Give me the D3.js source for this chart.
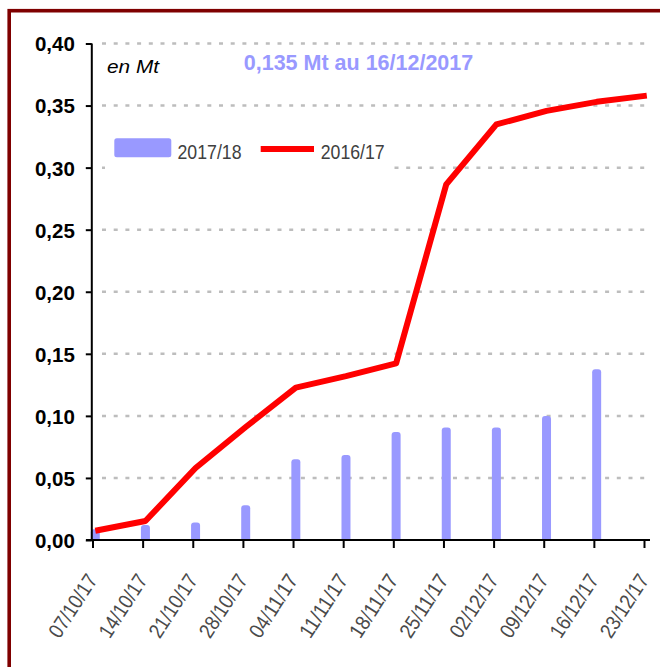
<!DOCTYPE html>
<html>
<head>
<meta charset="utf-8">
<script src="https://cdn.jsdelivr.net/npm/d3@7/dist/d3.min.js"></script>
<style>
html, body { margin: 0; padding: 0; background: #fff; }
svg { display: block; }
</style>
</head>
<body>
<svg id="chart" width="660" height="667"></svg>
<script>
// ---- data ----
const categories = ["07/10/17","14/10/17","21/10/17","28/10/17","04/11/17","11/11/17",
                    "18/11/17","25/11/17","02/12/17","09/12/17","16/12/17","23/12/17"];
const series2017 = [0.0086, 0.012, 0.014, 0.028, 0.065, 0.0685, 0.087, 0.0907, 0.0907, 0.100, 0.1375, null];
const series2016 = [0.0075, 0.0153, 0.058, 0.091, 0.1227, 0.132, 0.1423, 0.2865, 0.3348, 0.3457, 0.353, 0.358];
const yTicks = [0, 0.05, 0.10, 0.15, 0.20, 0.25, 0.30, 0.35, 0.40];
const seriesNames = ["2017/18", "2016/17"];
const titleText = "0,135 Mt au 16/12/2017";
const unitText = "en Mt";

// ---- layout ----
const svg = d3.select("#chart");
const barColor = "#9999FF";
const lineColor = "#FF0000";
const fmt = d => d3.format(".2f")(d).replace(".", ",");

// frame
svg.append("rect").attr("x", 9.2).attr("y", 10.7).attr("width", 720).attr("height", 720)
  .attr("fill", "none").attr("stroke", "#7F0000").attr("stroke-width", 3.6);

const x = d3.scalePoint().domain(categories).range([95.3, 646.8]);
const y = d3.scaleLinear().domain([0, 0.40]).range([540, 43.5]);
const tickShift = -2.8;
const axisLeftX = 91.8;

// gridlines
svg.append("g").selectAll("line").data(yTicks.filter(d => d > 0)).join("line")
  .attr("x1", 102).attr("x2", 648)
  .attr("y1", d => y(d)).attr("y2", d => y(d))
  .attr("stroke", "#BDBDBD").attr("stroke-width", 2.5)
  .attr("stroke-dasharray", "4,7.7");

// legend background (covers gridline)
svg.append("rect").attr("x", 105).attr("y", 128).attr("width", 286).attr("height", 44).attr("fill", "#fff");

// bars
const bw = 9;
svg.append("g").selectAll("path").data(categories.map((c, i) => ({c, v: series2017[i]})).filter(d => d.v != null))
  .join("path")
  .attr("fill", barColor)
  .attr("d", d => {
    const x0 = x(d.c) - bw / 2, x1 = x(d.c) + bw / 2, yt = y(d.v), yb = y(0), r = Math.min(3, (yb - yt) / 2);
    return `M${x0},${yb} L${x0},${yt + r} Q${x0},${yt} ${x0 + r},${yt} L${x1 - r},${yt} Q${x1},${yt} ${x1},${yt + r} L${x1},${yb} Z`;
  });

// line
const lineGen = d3.line().x((d, i) => x(categories[i])).y(d => y(d));
svg.append("path").datum(series2016)
  .attr("d", lineGen).attr("fill", "none")
  .attr("stroke", lineColor).attr("stroke-width", 6).attr("stroke-linejoin", "round");

// y axis
const yAxis = d3.axisLeft(y).tickValues(yTicks).tickFormat(fmt).tickSize(6).tickPadding(11);
const gy = svg.append("g").attr("transform", `translate(${axisLeftX},0)`).call(yAxis);
gy.select(".domain").attr("stroke", "#000").attr("stroke-width", 2).attr("d", `M0,${y(0.40)}V${y(0)}`);
gy.selectAll(".tick line").attr("stroke", "#000").attr("stroke-width", 2);
gy.selectAll(".tick text").attr("fill", "#000").attr("font-family", "Liberation Sans, Arial, sans-serif")
  .attr("font-weight", "bold").attr("font-size", 20.5).attr("dy", "0.36em");

// x axis
const xAxis = d3.axisBottom(x).tickSize(8).tickFormat(d => d);
const gx = svg.append("g").attr("transform", `translate(${tickShift},${y(0)})`).call(xAxis);
gx.select(".domain").attr("stroke", "#000").attr("stroke-width", 2)
  .attr("d", `M${86 - tickShift},0H${650 - tickShift}`);
gx.selectAll(".tick line").attr("stroke", "#000").attr("stroke-width", 2);
gx.selectAll(".tick text")
  .attr("fill", "#4a4a4a")
  .attr("font-family", "Liberation Sans Narrow, Arial Narrow, Liberation Sans, sans-serif")
  .attr("font-size", 21)
  .attr("text-anchor", "end")
  .attr("textLength", 71).attr("lengthAdjust", "spacingAndGlyphs")
  .attr("transform", "translate(-1,36) rotate(-57)")
  .attr("x", 0).attr("y", 0).attr("dy", "0.35em");

// title
svg.append("text").attr("x", 358.5).attr("y", 70).attr("text-anchor", "middle")
  .attr("font-family", "Liberation Sans, Arial, sans-serif").attr("font-weight", "bold")
  .attr("font-size", 21.5).attr("fill", barColor).text(titleText);

// unit
svg.append("text").attr("x", 107).attr("y", 72.5)
  .attr("font-family", "Liberation Sans, Arial, sans-serif").attr("font-style", "italic")
  .attr("font-size", 19).attr("fill", "#000")
  .attr("textLength", 52).attr("lengthAdjust", "spacingAndGlyphs").text(unitText);

// legend
const lg = svg.append("g");
lg.append("rect").attr("x", 114.3).attr("y", 138.3).attr("width", 57).attr("height", 19).attr("rx", 2.5)
  .attr("fill", barColor);
lg.append("text").attr("x", 177.5).attr("y", 158.5).text(seriesNames[0]);
lg.append("line").attr("x1", 260.7).attr("x2", 314).attr("y1", 149).attr("y2", 149)
  .attr("stroke", lineColor).attr("stroke-width", 6);
lg.append("text").attr("x", 320.7).attr("y", 158.5).text(seriesNames[1]);
lg.selectAll("text").attr("font-family", "Liberation Sans Narrow, Arial Narrow, Liberation Sans, sans-serif")
  .attr("font-size", 21).attr("fill", "#404040")
  .attr("textLength", 64).attr("lengthAdjust", "spacingAndGlyphs");
</script>
</body>
</html>
